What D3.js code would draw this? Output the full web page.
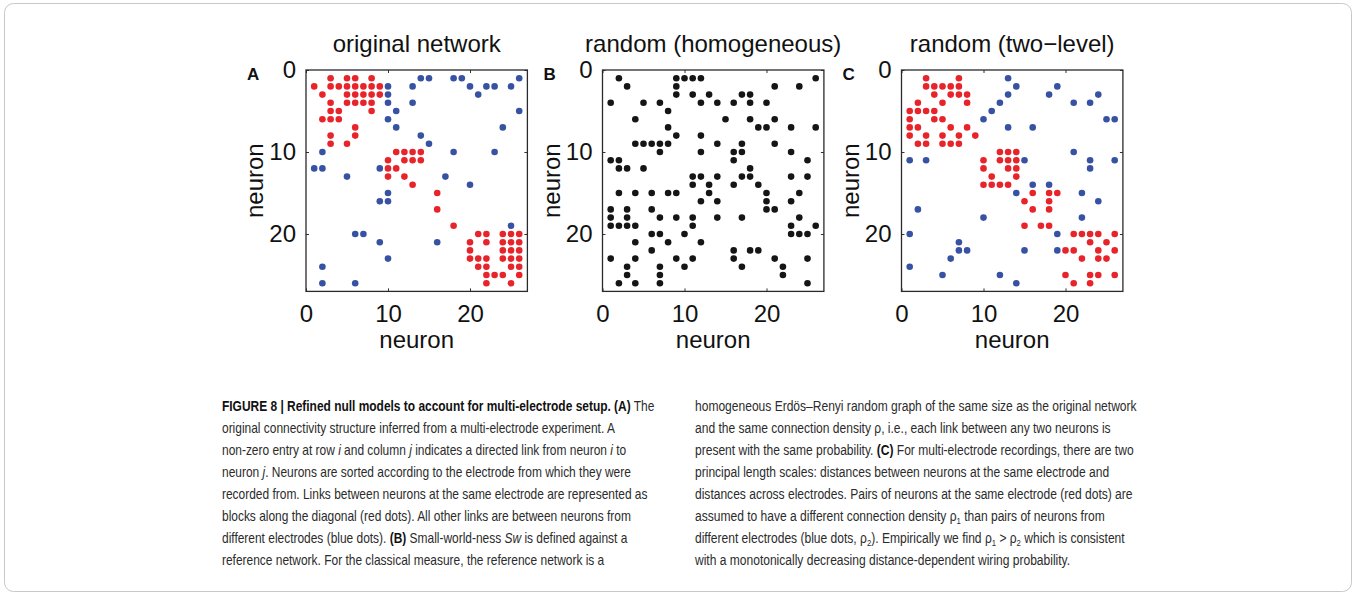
<!DOCTYPE html>
<html><head><meta charset="utf-8">
<script src="https://cdn.jsdelivr.net/npm/d3@7"></script>
<style>body{margin:0;background:#fff}svg{display:block}</style>
</head><body>
<svg id="fig" width="1356" height="596"></svg>
<script>
// ---- data: each entry i lists the columns j with a link at row i+1 ----
const aRed = [[3,5,6,8],[1,3,4,5,6,7,8,9],[2,5,6,7,8,9],[3,5,6,7,8],[3,4,8],[2,3,4],[6],[3,6],[3,5],
  [11,12,13,14],[10,12,13,14],[10,11],[10,12],[13],[16],[],[16],[],[18],
  [21,22,24,25,26],[20,22,24,25,26],[20,24,25,26],[20,21,22,24,25,26],[21,22,25,26],[22,23,24,26],[22,25]];
const aBlue = [[14,15,18,19,26],[10,13,20,22,23,25],[10,21],[10,13],[11,26],[10],[11,24],[14],[15],
  [2,18,23],[],[1,2,9],[5,17],[20],[10],[9,10],[],[],[25],[6,7],[9,16],[],[10],[2],[],[2,6]];
const bBlack = [[2,9,10,11,12,26],[3,9,21,24],[9,11,13,17,18],[1,5,7,12,14,16,18,20],[8],[4,15,18,21],
  [8,19,20,23,26],[9,12],[4,5,6,7,8,14,17,21],[7,12,16,17,23],[1,2,16,25],[2,3,5,18],
  [11,12,14,17,18,23,25],[11,13,16,19],[2,4,6,8,9,13,20,24],[12,14,20,23],[1,3,6,20,21],
  [1,3,7,9,11,14,17,24],[1,2,3,4,11,23,26],[6,7,10,23,24,25],[4,8,12],[6,16,18,19],
  [1,4,9,11,16,21,25],[3,7,10,17,22],[3,7,22],[2,4,7,25]];
const cRed = [[3,7],[3,4,5,6,7],[4,6,7,8],[2,5,8],[1,2,3,4],[1,4,5],[1,2,6,8],[1,3,5,7,9],[2,3,5,6,7],
  [12,13,14],[10,12,13,14],[10,13,14],[11,14],[10,11,12,13],[16,18,19],[15,18],[16,18],[],[15,17,18],
  [21,22,23,24,26],[23,25],[20,21,24,26],[22,24,25],[],[20,23,24,26],[21,23]];
const cBlue = [[13],[14,19],[13,18,24],[12,21,23],[11],[10,25,26],[13,16],[],[],[21],[1,3,15,23,26],[23],[],
  [16,18],[14,22],[24],[2],[10,22],[],[1,19],[7],[7,8,15,19],[6],[1],[5,12],[14]];
const ticks = [0, 10, 20];
const axisMax = 27;
const titles = ["original network", "random (homogeneous)", "random (two\u2212level)"];
const letters = ["A", "B", "C"];
const axisLabel = "neuron";

// ---- styles / layout ----
const RED = "#e8242b", BLUE = "#3752a3", BLACK = "#151515";
const FONT = "'Liberation Sans', Arial, Helvetica, sans-serif";
const panels = [
  {x0: 306,   letter: letters[0], title: titles[0], series: [{rows: aBlue, color: BLUE}, {rows: aRed, color: RED}]},
  {x0: 602.5, letter: letters[1], title: titles[1], series: [{rows: bBlack, color: BLACK}]},
  {x0: 901.5, letter: letters[2], title: titles[2], series: [{rows: cBlue, color: BLUE}, {rows: cRed, color: RED}]}
];
const size = 221.4, y0 = 70;

const svg = d3.select("#fig");
svg.append("rect").attr("x", 4.5).attr("y", 3.5).attr("width", 1347).attr("height", 588)
  .attr("rx", 9).attr("fill", "none").attr("stroke", "#c8c8c8").attr("stroke-width", 1);

panels.forEach(p => {
  const x = d3.scaleLinear().domain([0, axisMax]).range([p.x0, p.x0 + size]);
  const y = d3.scaleLinear().domain([0, axisMax]).range([y0, y0 + size]);
  const g = svg.append("g");
  // dots
  p.series.forEach(s => {
    const pts = [];
    s.rows.forEach((cols, i) => cols.forEach(j => pts.push([j, i + 1])));
    g.selectAll(null).data(pts).enter().append("circle")
      .attr("cx", d => x(d[0])).attr("cy", d => y(d[1])).attr("r", 3.3).attr("fill", s.color);
  });
  // axes (box with inward ticks)
  const tl = 3;
  g.append("g").attr("transform", `translate(0,${y0 + size})`)
    .call(d3.axisBottom(x).tickValues(ticks).tickSizeInner(-tl).tickSizeOuter(0).tickPadding(8))
    .call(a => a.select(".domain").remove())
    .call(a => a.selectAll("text").attr("font-size", 24).attr("font-family", FONT).attr("fill", "#111").attr("dy", "0.95em"))
    .call(a => a.selectAll("line").attr("stroke", "#333"));
  g.append("g").attr("transform", `translate(0,${y0})`)
    .call(d3.axisTop(x).tickValues(ticks).tickSizeInner(-tl).tickSizeOuter(0).tickFormat(""))
    .call(a => a.select(".domain").remove())
    .call(a => a.selectAll("line").attr("stroke", "#333"));
  g.append("g").attr("transform", `translate(${p.x0},0)`)
    .call(d3.axisLeft(y).tickValues(ticks).tickSizeInner(-tl).tickSizeOuter(0).tickPadding(10))
    .call(a => a.select(".domain").remove())
    .call(a => a.selectAll("text").attr("font-size", 24).attr("font-family", FONT).attr("fill", "#111"))
    .call(a => a.selectAll("line").attr("stroke", "#333"));
  g.append("g").attr("transform", `translate(${p.x0 + size},0)`)
    .call(d3.axisRight(y).tickValues(ticks).tickSizeInner(-tl).tickSizeOuter(0).tickFormat(""))
    .call(a => a.select(".domain").remove())
    .call(a => a.selectAll("line").attr("stroke", "#333"));
  g.append("rect").attr("x", p.x0).attr("y", y0).attr("width", size).attr("height", size)
    .attr("fill", "none").attr("stroke", "#2a2a2a").attr("stroke-width", 1.3);
  // labels
  g.append("text").attr("x", p.x0 + size / 2).attr("y", 348).attr("text-anchor", "middle")
    .attr("font-family", FONT).attr("font-size", 24).attr("fill", "#111").text(axisLabel);
  g.append("text").attr("transform", `translate(${p.x0 - 43},${y0 + size / 2}) rotate(-90)`)
    .attr("text-anchor", "middle").attr("font-family", FONT).attr("font-size", 24).attr("fill", "#111").text(axisLabel);
  g.append("text").attr("x", p.x0 + size / 2).attr("y", 52).attr("text-anchor", "middle")
    .attr("font-family", FONT).attr("font-size", 24).attr("fill", "#111").text(p.title);
  g.append("text").attr("x", p.x0 - 59).attr("y", 80).attr("font-family", FONT).attr("font-weight", "bold")
    .attr("font-size", 17).attr("fill", "#111").text(p.letter);
});

// ---- caption ----
const capLeft = [
  [["FIGURE 8 | Refined null models to account for multi-electrode setup. (A)", "b"], [" The"]],
  [["original connectivity structure inferred from a multi-electrode experiment. A"]],
  [["non-zero entry at row "], ["i", "i"], [" and column "], ["j", "i"], [" indicates a directed link from neuron "], ["i", "i"], [" to"]],
  [["neuron "], ["j", "i"], [". Neurons are sorted according to the electrode from which they were"]],
  [["recorded from. Links between neurons at the same electrode are represented as"]],
  [["blocks along the diagonal (red dots). All other links are between neurons from"]],
  [["different electrodes (blue dots). "], ["(B)", "b"], [" Small-world-ness "], ["Sw", "i"], [" is defined against a"]],
  [["reference network. For the classical measure, the reference network is a"]]
];
const capRight = [
  [["homogeneous Erdös–Renyi random graph of the same size as the original network"]],
  [["and the same connection density ρ, i.e., each link between any two neurons is"]],
  [["present with the same probability. "], ["(C)", "b"], [" For multi-electrode recordings, there are two"]],
  [["principal length scales: distances between neurons at the same electrode and"]],
  [["distances across electrodes. Pairs of neurons at the same electrode (red dots) are"]],
  [["assumed to have a different connection density ρ"], ["1", "s"], [" than pairs of neurons from"]],
  [["different electrodes (blue dots, ρ"], ["2", "s"], ["). Empirically we find ρ"], ["1", "s"], [" > ρ"], ["2", "s"], [" which is consistent"]],
  [["with a monotonically decreasing distance-dependent wiring probability."]]
];

function drawCaption(lines, x, targetWidth) {
  const g = svg.append("g");
  const texts = lines.map((segs, k) => {
    const t = g.append("text").attr("x", 0).attr("y", 411 + k * 22)
      .attr("font-family", FONT).attr("font-size", 14).attr("fill", "#2b2b2b");
    segs.forEach(([s, st]) => {
      const ts = t.append("tspan").text(s);
      if (st === "b") ts.attr("font-weight", "bold").attr("fill", "#111");
      if (st === "i") ts.attr("font-style", "italic");
      if (st === "s") ts.attr("font-size", 9).attr("dy", 3);
      if (st !== "s" && segs.some(q => q[1] === "s")) ts.attr("dy", 0);
    });
    // restore baseline after subscripts
    t.selectAll("tspan").each(function(d, i, nodes) {
      const prev = i > 0 ? d3.select(nodes[i - 1]) : null;
      if (prev && prev.attr("font-size") === "9" && d3.select(this).attr("font-size") !== "9") d3.select(this).attr("dy", -3);
    });
    return t;
  });
  const w = texts[0].node().getComputedTextLength();
  const sx = targetWidth / w;
  g.attr("transform", `translate(${x},0) scale(${sx},1)`);
}
drawCaption(capLeft, 222, 433);
drawCaption(capRight, 695, 442);
</script>
</body></html>
